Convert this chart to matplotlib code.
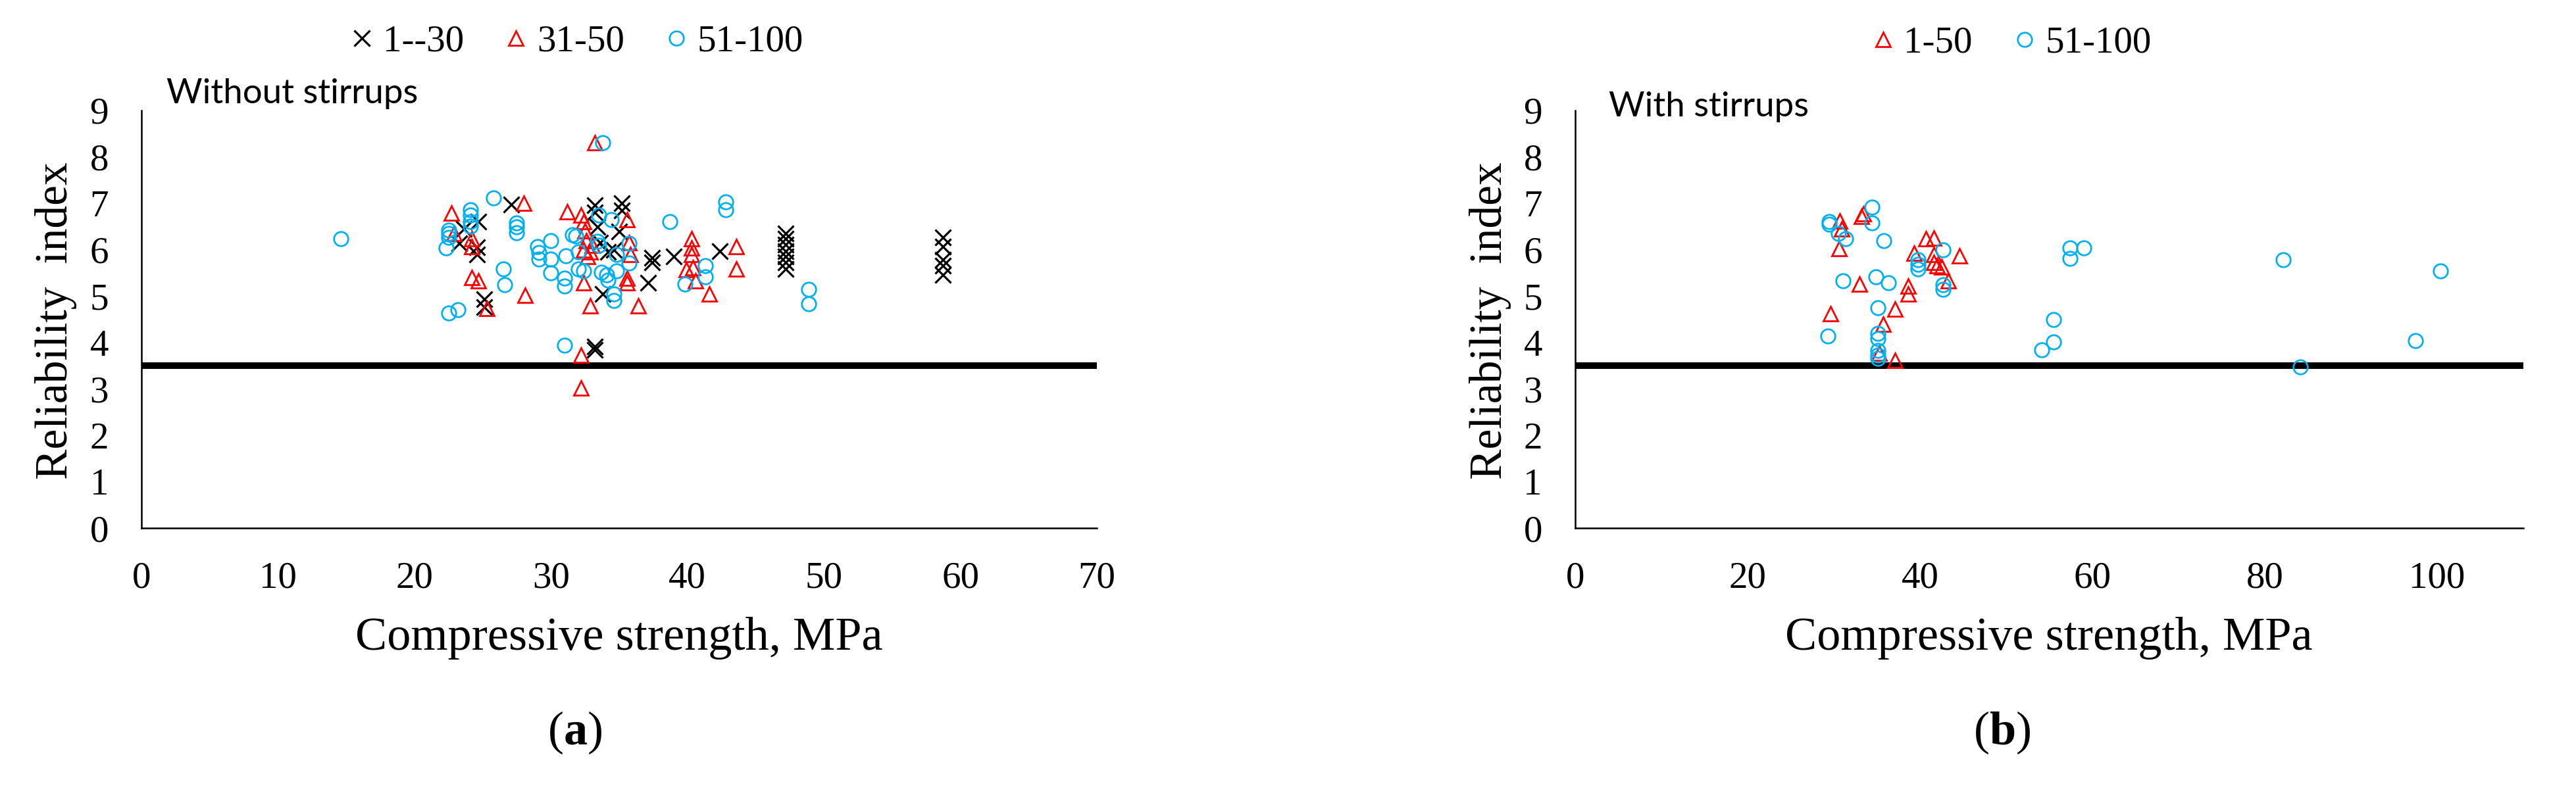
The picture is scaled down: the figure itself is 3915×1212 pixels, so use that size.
import numpy as np
import matplotlib
matplotlib.use('Agg')
import matplotlib.pyplot as plt

plt.rcParams['font.family'] = ['Liberation Serif', 'DejaVu Serif']
plt.rcParams['mathtext.fontset'] = 'custom'
plt.rcParams['mathtext.bf'] = 'Liberation Serif:bold'
plt.rcParams['mathtext.rm'] = 'Liberation Serif'

# ── Data: (a) without stirrups ───────────────────────────────────────────────
a_g1_x = [27.1, 24.7, 23.3, 24.6, 24.6, 23.6, 25.1, 25.1,
          33.2, 33.2, 35.2, 35.2, 33.4, 35.0, 34.2, 33.6, 33.8, 34.6,
          37.4, 37.4, 39.0, 37.1, 42.4, 33.2, 33.2,
          47.2, 47.2, 47.2, 47.2, 47.2, 47.2, 47.2,
          58.7, 58.7, 58.7, 58.7, 58.7]
a_g1_y = [6.97, 6.60, 6.13, 5.90, 6.05, 6.45, 4.93, 4.76,
          6.96, 6.80, 7.00, 6.85, 6.49, 6.39, 5.95, 6.15, 5.05, 6.00,
          5.83, 5.73, 5.85, 5.28, 5.97, 3.91, 3.84,
          6.35, 6.23, 6.11, 5.97, 5.85, 5.73, 5.59,
          6.27, 6.06, 5.78, 5.66, 5.45]

a_g2_x = [22.7, 22.9, 24.2, 24.2, 28.0, 24.2, 24.7, 28.1, 25.3,
          33.2, 31.2, 32.2, 35.6, 32.4, 32.5, 32.6, 32.4, 32.7, 33.0, 32.9,
          32.4, 35.6, 35.6, 32.9, 36.4, 32.2, 32.2, 35.8, 35.7,
          40.3, 40.3, 40.3, 39.9, 40.4, 40.6, 41.6, 43.6, 43.6]
a_g2_y = [6.79, 6.35, 6.23, 6.06, 7.00, 5.40, 5.33, 5.02, 4.74,
          8.30, 6.82, 6.75, 6.65, 6.60, 6.40, 6.20, 6.00, 5.85, 6.10, 5.95,
          5.28, 5.28, 5.38, 4.79, 4.79, 3.73, 3.02, 5.90, 6.15,
          6.23, 6.04, 5.90, 5.57, 5.61, 5.33, 5.05, 6.06, 5.59]

a_g3_x = [14.6, 25.8, 24.1, 24.1, 24.1, 24.1, 22.5, 22.5, 22.5, 22.3,
          27.5, 27.5, 27.5, 26.5, 26.6, 22.5, 23.2,
          33.8, 33.5, 34.4, 31.6, 31.8, 32.0, 33.4, 33.5, 35.7, 34.8, 35.7,
          29.0, 29.1, 29.1, 30.0, 30.0, 31.1, 30.0, 31.0, 31.0,
          32.0, 32.4, 33.7, 34.1, 34.2, 34.8, 34.6, 34.6,
          38.7, 42.8, 42.8, 41.3, 41.3, 39.8, 31.0, 48.9, 48.9]
a_g3_y = [6.24, 7.11, 6.86, 6.75, 6.60, 6.51, 6.42, 6.35, 6.27, 6.04,
          6.58, 6.49, 6.37, 5.59, 5.25, 4.63, 4.70,
          8.31, 6.75, 6.65, 6.32, 6.30, 5.95, 6.18, 6.09, 6.13, 5.90, 5.71,
          6.06, 5.94, 5.79, 6.20, 5.80, 5.87, 5.50, 5.38, 5.21,
          5.59, 5.54, 5.52, 5.45, 5.35, 5.54, 5.05, 4.91,
          6.60, 7.03, 6.86, 5.66, 5.42, 5.26, 3.94, 5.14, 4.83]

# ── Data: (b) with stirrups ──────────────────────────────────────────────────
b_g1_x = [30.7, 30.9, 30.6, 33.4, 33.2, 40.7, 41.6, 39.3, 41.6,
          41.6, 42.0, 42.5, 43.3, 44.6, 33.0, 38.6, 38.6, 37.1,
          29.6, 35.7, 35.3, 37.1]
b_g1_y = [6.62, 6.45, 6.02, 6.77, 6.72, 6.23, 6.25, 5.92, 5.90,
          5.72, 5.65, 5.62, 5.33, 5.87, 5.26, 5.21, 5.05, 4.72,
          4.62, 4.39, 3.77, 3.61]

b_g2_x = [29.5, 29.5, 30.5, 31.4, 34.4, 34.4, 35.8, 42.7,
          39.8, 39.8, 39.8, 42.7, 42.7, 31.1, 34.9, 36.3, 35.1, 29.3,
          35.1, 35.1, 35.1, 35.1, 35.1, 54.1, 55.5, 55.5,
          57.4, 59.0, 57.4, 82.1, 84.1, 97.5, 100.4]
b_g2_y = [6.60, 6.55, 6.35, 6.23, 6.91, 6.58, 6.20, 5.99,
          5.78, 5.68, 5.59, 5.24, 5.14, 5.33, 5.41, 5.28, 4.75, 4.14,
          4.20, 4.08, 3.82, 3.73, 3.65, 3.84, 4.50, 4.01,
          6.04, 6.04, 5.81, 5.78, 3.47, 4.04, 5.54]

threshold = 3.5

RED = '#FF0000'; BLUE = '#00B0F0'
W, H = 3915, 1212

fig = plt.figure(figsize=(W / 100, H / 100), dpi=100)
ax_a = fig.add_axes([215 / W, 1 - 803 / H, 1452 / W, 635 / H])
ax_b = fig.add_axes([2394 / W, 1 - 803 / H, 1441 / W, 635 / H])

mk_x = dict(marker='x', ls='none', color='black', ms=17.5, mew=2.3)
mk_t = dict(marker='^', ls='none', color=RED, mfc='none', ms=16, mew=2.0)
mk_o = dict(marker='o', ls='none', color=BLUE, mfc='none', ms=15.5, mew=2.0)

ax_a.plot(a_g1_x, a_g1_y, label='1--30', **mk_x)
ax_a.plot(a_g2_x, a_g2_y, label='31-50', **mk_t)
ax_a.plot(a_g3_x, a_g3_y, label='51-100', **mk_o)

ax_b.plot(b_g1_x, b_g1_y, label='1-50', **mk_t)
ax_b.plot(b_g2_x, b_g2_y, label='51-100', **mk_o)

for ax, xmax, step in [(ax_a, 70, 10), (ax_b, 110, 20)]:
    ax.axhline(threshold, color='black', lw=7.2, zorder=1)
    ax.set_xlim(0, xmax)
    ax.set_ylim(0, 9)
    ax.set_xticks(np.arange(0, 101 if xmax > 70 else 71, step))
    ax.set_yticks(np.arange(0, 10, 1))
    ax.tick_params(length=0, labelsize=41, pad=36)
    for s in ['top', 'right']:
        ax.spines[s].set_visible(False)
    for s in ['left', 'bottom']:
        ax.spines[s].set_linewidth(1.8)

# legends
leg_kw = dict(loc='center', bbox_transform=fig.transFigure, frameon=False,
              fontsize=41, handlelength=0.6, handletextpad=0.25,
              columnspacing=1.1, borderpad=0, markerscale=1.0)
ax_a.legend(ncol=3, bbox_to_anchor=(877 / W, 1 - 64 / H), **leg_kw)
ax_b.legend(ncol=2, bbox_to_anchor=(3057 / W, 1 - 66 / H), **leg_kw)

# panel notes
fig.text(253 / W, 1 - 143 / H, 'Without stirrups', family='Lato',
         fontsize=38, ha='left', va='center')
fig.text(2445 / W, 1 - 162 / H, 'With stirrups', family='Lato',
         fontsize=38, ha='left', va='center')

# axis labels
for cx in [85, 2265]:
    fig.text(cx / W, 1 - 488 / H, 'Reliability  index', rotation=90,
             fontsize=50, ha='center', va='center')
for cx in [941, 3114]:
    fig.text(cx / W, 1 - 988 / H, 'Compressive strength, MPa',
             fontsize=52, ha='center', va='baseline')

fig.text(874 / W, 1 - 1114 / H, r'($\mathbf{a}$)', fontsize=52,
         ha='center', va='center')
fig.text(3043 / W, 1 - 1114 / H, r'($\mathbf{b}$)', fontsize=52,
         ha='center', va='center')

fig.savefig('out.png', dpi=100)
